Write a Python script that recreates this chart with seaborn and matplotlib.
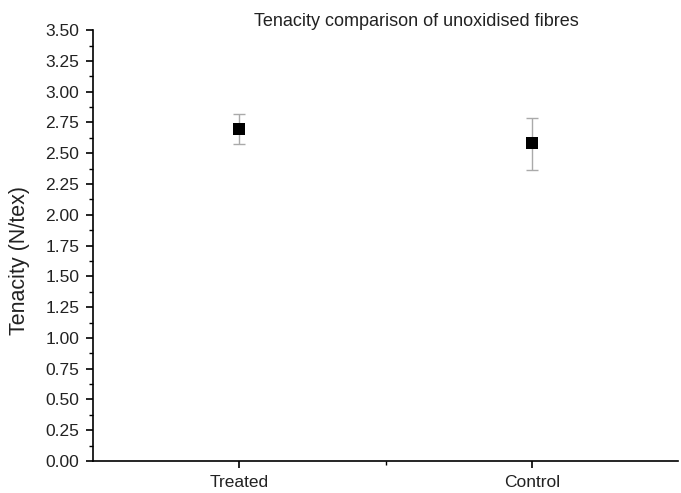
import numpy as np
import pandas as pd
import matplotlib
matplotlib.use("Agg")
import matplotlib.pyplot as plt
import seaborn as sns
from matplotlib.ticker import MultipleLocator, FixedLocator

sns.set_theme(style="ticks")
plt.rcParams['font.family'] = ['Liberation Sans', 'DejaVu Sans']

# Data
groups = ['Treated', 'Control']
tenacity = [2.70, 2.58]
err_low = [0.125, 0.22]
err_high = [0.12, 0.21]

df = pd.DataFrame({'group': groups, 'tenacity': tenacity})
df['x'] = np.arange(len(groups))

fig = plt.figure(figsize=(6.81, 4.93), dpi=100)
ax = fig.add_axes([0.1366, 0.0649, 0.859, 0.874])

# Error bars
ax.errorbar(df['x'], df['tenacity'], yerr=[err_low, err_high], fmt='none',
            ecolor='#aaaaaa', elinewidth=1.0, capsize=4, capthick=1.0, zorder=2)

# Mean markers
sns.scatterplot(data=df, x='x', y='tenacity', marker='s', s=75, color='black',
                edgecolor='black', linewidth=0, ax=ax, zorder=3, legend=False)

ax.set_xlim(-0.5, 1.5)
ax.set_ylim(0, 3.5)
ax.xaxis.set_major_locator(FixedLocator(df['x']))
ax.set_xticklabels(groups)
ax.xaxis.set_minor_locator(FixedLocator([0.5]))
ax.yaxis.set_major_locator(MultipleLocator(0.25))
ax.yaxis.set_minor_locator(MultipleLocator(0.125))
ax.yaxis.set_major_formatter(matplotlib.ticker.FormatStrFormatter('%.2f'))

ax.tick_params(axis='both', which='major', direction='out', length=5, width=1.2,
               labelsize=12.5, color='black', labelcolor='#222222', pad=5)
ax.tick_params(axis='both', which='minor', direction='out', length=3, width=1.0, color='black')

for s in ['top', 'right']:
    ax.spines[s].set_visible(False)
for s in ['left', 'bottom']:
    ax.spines[s].set_color('black')
    ax.spines[s].set_linewidth(1.2)

ax.set_xlabel('')
ax.set_ylabel('Tenacity (N/tex)', fontsize=15.5, color='#222222')
ax.yaxis.set_label_coords(-0.108, 0.465)
ax.set_title('Tenacity comparison of unoxidised fibres', fontsize=13,
             color='#222222', x=0.552, pad=3)

fig.savefig('out.png', dpi=100)
